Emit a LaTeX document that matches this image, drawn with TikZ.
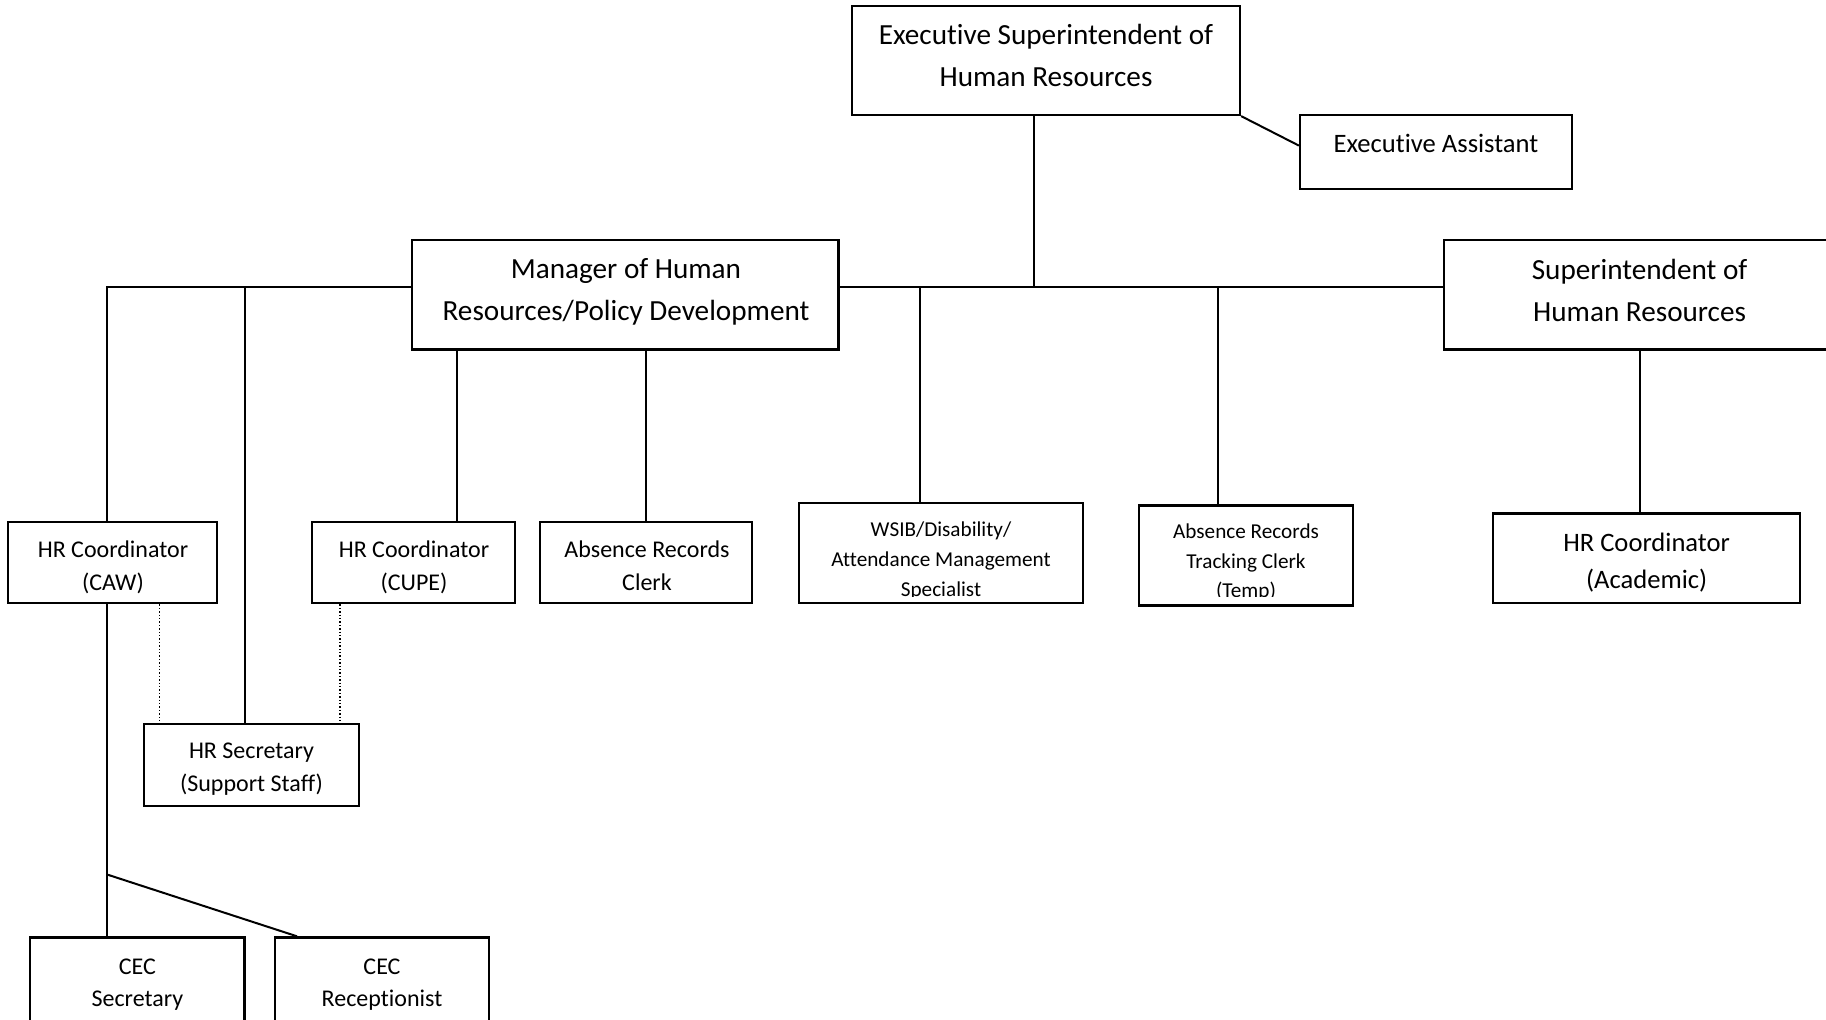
\documentclass[tikz,border=0pt]{standalone}
\usepackage{fontspec}
\setmainfont{Carlito}[Ligatures=NoCommon]
\begin{document}
\begin{tikzpicture}[x=0.5pt,y=-0.5pt,
  box/.style={draw, line width=1.1pt, inner sep=0pt},
  conn/.style={line width=1pt},
  dotconn/.style={line width=0.7pt, densely dotted},
  big/.style={font=\fontsize{14.6}{21}\selectfont, align=center, inner sep=0pt},
  med/.style={font=\fontsize{13.3}{18.6}\selectfont, align=center, inner sep=0pt},
  sml/.style={font=\fontsize{12}{16.3}\selectfont, align=center, inner sep=0pt},
  tny/.style={font=\fontsize{10.6}{14.85}\selectfont, align=center, inner sep=0pt}]
\useasboundingbox (0,0) rectangle (1826,1019);

% boxes
\node[box, minimum width=194pt, minimum height=54.5pt] (exec) at (1046,60.5) {};
\node[box, minimum width=136pt, minimum height=36.65pt] (ea) at (1436,152) {};
\node[box, minimum width=213.1pt, minimum height=54.7pt] (mgr) at (625.3,294.7) {};
\node[box, minimum width=196pt, minimum height=54.7pt] (sup) at (1640,294.7) {};
\node[box, minimum width=153.5pt, minimum height=44.85pt] (acad) at (1646.5,558.4) {};
\node[box, minimum width=104.2pt, minimum height=40.75pt] (caw) at (112.4,562.5) {};
\node[box, minimum width=101.3pt, minimum height=40.75pt] (cupe) at (413.4,562.5) {};
\node[box, minimum width=106pt, minimum height=40.75pt] (absc) at (646.3,562.5) {};
\node[box, minimum width=142.1pt, minimum height=50pt] (wsib) at (941,553.2) {};
\node[box, minimum width=107.1pt, minimum height=50pt] (trk) at (1246,555.5) {};
\node[box, minimum width=107.15pt, minimum height=40.75pt] (hrsec) at (251.5,765) {};
\node[box, minimum width=107.1pt, minimum height=51.3pt] (cecs) at (137.4,988.7) {};
\node[box, minimum width=107.15pt, minimum height=51.3pt] (cecr) at (382,988.7) {};

% texts
\node[big] (t-exec) at (1046,55.9) {Executive Superintendent of\\Human Resources};
\node[med] (t-ea) at (1436,143.2) {Executive Assistant};
\node[big] (t-mgr) at (626,292.3) {Manager of Human\\Resources/Policy Development};
\node[big] (t-sup) at (1639.6,290) {Superintendent of\\Human Resources};
\node[med] (t-acad) at (1646.6,562.3) {HR Coordinator\\(Academic)};
\node[sml] (t-caw) at (113,567.1) {HR Coordinator\\(CAW)};
\node[sml] (t-cupe) at (414,567.1) {HR Coordinator\\(CUPE)};
\node[sml] (t-absc) at (647,565.8) {Absence Records\\Clerk};
\begin{scope}
\clip (wsib.north west) rectangle ([yshift=4pt]wsib.south east);
\node[tny] (t-wsib) at (941,561) {WSIB/Disability/\\Attendance Management\\Specialist};
\end{scope}
\begin{scope}
\clip (trk.north west) rectangle ([yshift=5.25pt]trk.south east);
\node[tny] (t-trk) at (1246,562.5) {Absence Records\\Tracking Clerk\\(Temp)};
\end{scope}
\node[sml] (t-hrsec) at (251.5,769.4) {HR Secretary\\(Support Staff)};
\node[sml] (t-cecs) at (137.4,984.7) {CEC\\Secretary};
\node[sml] (t-cecr) at (382,984.7) {CEC\\Receptionist};

% bus coordinates
\coordinate (busL) at (107.1,286.5);
\coordinate (busT) at (1034.1,286.5);
\coordinate (dropSec) at (244.5,286.5);
\coordinate (dropW) at (920,286.5);
\coordinate (dropT) at (1218,286.5);
\coordinate (split) at (107.1,874.5);

% connectors
\draw[conn] (exec.south east) -- ([yshift=3.2pt]ea.west);
\draw[conn] (busT |- exec.south) -- (busT);
\draw[conn] (busL |- caw.north) -- (busL) -- (busL -| mgr.west);
\draw[conn] (mgr.east |- busT) -- (sup.west |- busT);
\draw[conn] (dropSec) -- (dropSec |- hrsec.north);
\draw[conn] (dropW) -- (dropW |- wsib.north);
\draw[conn] (dropT) -- (dropT |- trk.north);
\draw[conn] (456.5,0 |- mgr.south) -- (456.5,0 |- cupe.north);
\draw[conn] (646.3,0 |- mgr.south) -- (646.3,0 |- absc.north);
\draw[conn] (1639.6,0 |- sup.south) -- ([yshift=-1.2pt]1639.6,0 |- acad.north);
\draw[conn] (busL |- caw.south) -- (busL |- cecs.north);
\draw[conn] (split) -- (297,0 |- cecr.north);
\draw[dotconn] (159.5,0 |- caw.south) -- (159.5,0 |- hrsec.north);
\draw[dotconn] (340,0 |- cupe.south) -- (340,0 |- hrsec.north);
\end{tikzpicture}
\end{document}
